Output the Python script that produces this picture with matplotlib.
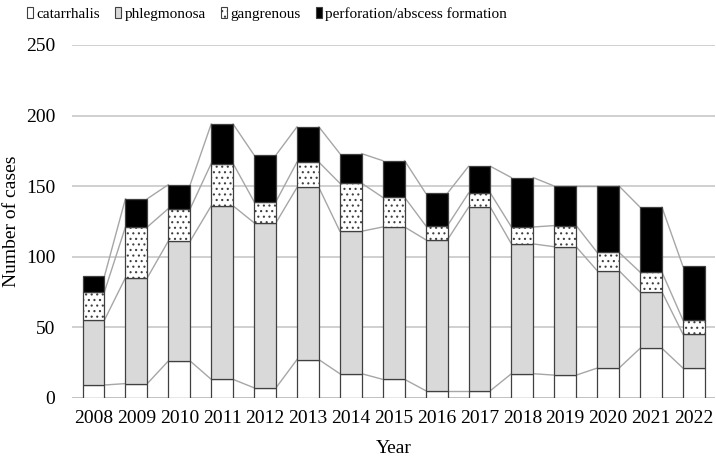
import matplotlib
matplotlib.use("Agg")
import matplotlib.pyplot as plt
from matplotlib.patches import Patch
import numpy as np

years = ["2008", "2009", "2010", "2011", "2012", "2013", "2014", "2015",
         "2016", "2017", "2018", "2019", "2020", "2021", "2022"]
catarrhalis = [9, 10, 26, 13, 7, 27, 17, 13, 5, 5, 17, 16, 21, 35, 21]
phlegmonosa = [46, 75, 85, 123, 117, 122, 101, 108, 107, 130, 92, 91, 69, 40, 24]
gangrenous = [20, 36, 23, 30, 15, 18, 34, 21, 10, 10, 12, 15, 13, 14, 10]
perforation = [11, 20, 17, 28, 33, 25, 21, 26, 23, 19, 35, 28, 47, 46, 38]
series_names = ["catarrhalis", "phlegmonosa", "gangrenous", "perforation/abscess formation"]
yticks = [0, 50, 100, 150, 200, 250]

plt.rcParams['font.family'] = ['Liberation Serif', 'DejaVu Serif']
plt.rcParams['hatch.linewidth'] = 0.8
plt.rcParams['hatch.color'] = '#333333'

fig = plt.figure(figsize=(7.16, 4.61), dpi=100)
ax = fig.add_axes([0.1006, 0.1373, 0.8985, 0.7651])

x = np.arange(len(years))
w = 0.51
data = [catarrhalis, phlegmonosa, gangrenous, perforation]
faces = ['white', '#d9d9d9', 'white', 'black']
hatches = [None, None, '...', None]
edge = '#404040'

bottom = np.zeros(len(years))
tops = []
for vals, fc, h, name in zip(data, faces, hatches, series_names):
    v = np.array(vals, dtype=float)
    ax.bar(x, v, w, bottom=bottom, color=fc, edgecolor=edge, linewidth=0.9,
           hatch=h, label=name, zorder=3)
    bottom = bottom + v
    tops.append(bottom.copy())

# series lines connecting bar tops
for t in tops:
    for i in range(len(years) - 1):
        ax.plot([x[i] + w / 2, x[i + 1] - w / 2], [t[i], t[i + 1]],
                color='#a6a6a6', linewidth=1.0, zorder=2)

ax.set_xlim(-0.5, len(years) - 0.5)
ax.set_ylim(0, 250)
ax.set_yticks(yticks)
ax.set_xticks(x)
ax.set_xticklabels(years)
ax.yaxis.grid(True, color='#c8c8c8', linewidth=1.2, zorder=0)
ax.set_axisbelow(True)
for s in ax.spines.values():
    s.set_visible(False)
ax.axhline(0, color='#bfbfbf', linewidth=1.2, zorder=1)
ax.tick_params(axis='both', length=0, labelsize=14)
ax.tick_params(axis='y', pad=12)
ax.tick_params(axis='x', pad=9)
ax.set_ylabel("Number of cases", fontsize=14, labelpad=4)
ax.set_xlabel("Year", fontsize=14, labelpad=9)

handles = [Patch(facecolor=fc, edgecolor=edge, hatch=h, linewidth=0.8)
           for fc, h in zip(faces, hatches)]
fig.legend(handles, series_names, loc='upper left', bbox_to_anchor=(0.025, 1.005),
           ncol=4, frameon=False, fontsize=11, handlelength=0.4, handleheight=0.7,
           handletextpad=0.2, columnspacing=1.0, borderaxespad=0.2)

fig.savefig("out.png", dpi=100)
